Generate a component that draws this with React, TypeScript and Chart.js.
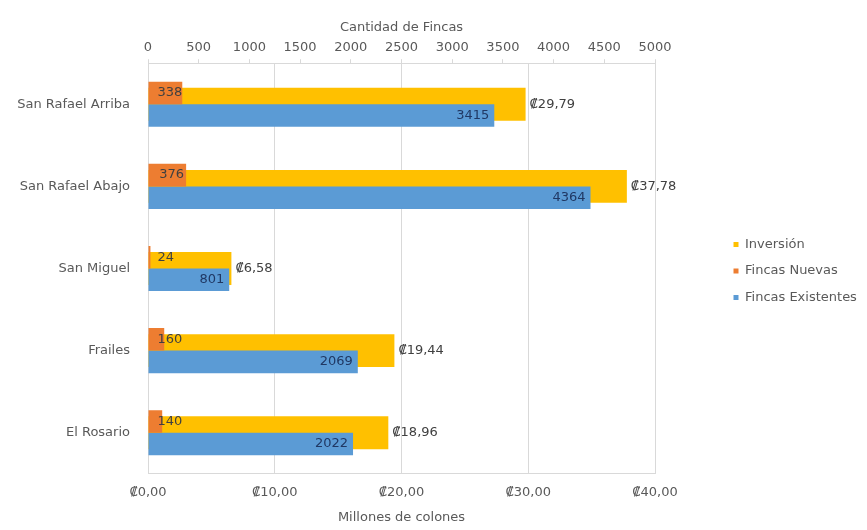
import React, { useEffect, useRef } from 'react';
import { Chart, registerables } from 'chart.js';

Chart.register(...registerables);

const categories = ['San Rafael Arriba', 'San Rafael Abajo', 'San Miguel', 'Frailes', 'El Rosario'];
const inversion = [29.79, 37.78, 6.58, 19.44, 18.96];
const fincasNuevas = [338, 376, 24, 160, 140];
const fincasExistentes = [3415, 4364, 801, 2069, 2022];
const seriesNames = ['Inversión', 'Fincas Nuevas', 'Fincas Existentes'];
const topAxisTitle = 'Cantidad de Fincas';
const bottomAxisTitle = 'Millones de colones';

const FONT = '"DejaVu Sans", sans-serif';
const TEXT = '#595959';
const GRID = '#d9d9d9';
const PAD_RIGHT = 3;
const PLOT_RIGHT = 655;

const fmtColones = (v: number) => '₡' + v.toFixed(2).replace('.', ',');

const valueLabels = {
  id: 'valueLabels',
  afterDatasetsDraw(chart: any) {
    const ctx = chart.ctx;
    ctx.save();
    ctx.font = `13px ${FONT}`;
    ctx.textBaseline = 'middle';
    chart.data.datasets.forEach((ds: any, di: number) => {
      const meta = chart.getDatasetMeta(di);
      meta.data.forEach((bar: any, i: number) => {
        const v = ds.data[i];
        const x = bar.x;
        const y = bar.y;
        const base = bar.base;
        if (di === 0) {
          ctx.fillStyle = '#404040';
          ctx.textAlign = 'left';
          ctx.fillText(fmtColones(v), x + 4, y);
        } else if (di === 1) {
          const t = String(v);
          const w = ctx.measureText(t).width;
          ctx.fillStyle = '#404040';
          ctx.textAlign = 'left';
          ctx.fillText(t, Math.max(x - 2 - w, base + 9), y);
        } else {
          const t = String(v);
          ctx.fillStyle = '#203864';
          ctx.textAlign = 'right';
          ctx.fillText(t, x - 5, y);
        }
      });
    });
    ctx.restore();
  },
};

export default function App() {
  const ref = useRef<HTMLCanvasElement | null>(null);

  useEffect(() => {
    if (!ref.current) return;
    Chart.defaults.font.family = FONT;
    Chart.defaults.font.size = 13;
    Chart.defaults.color = TEXT;

    const chart = new Chart(ref.current, {
      type: 'bar',
      data: {
        labels: categories,
        datasets: [
          {
            label: seriesNames[0],
            data: inversion,
            backgroundColor: '#FFC000',
            xAxisID: 'x',
            yAxisID: 'y',
            grouped: false,
            order: 1,
            categoryPercentage: 1,
            barPercentage: 0.4,
            borderWidth: 0,
          } as any,
          {
            label: seriesNames[1],
            data: fincasNuevas,
            backgroundColor: '#ED7D31',
            xAxisID: 'x2',
            yAxisID: 'y',
            order: 0,
            categoryPercentage: 0.55,
            barPercentage: 1,
            borderWidth: 0,
          } as any,
          {
            label: seriesNames[2],
            data: fincasExistentes,
            backgroundColor: '#5B9BD5',
            xAxisID: 'x2',
            yAxisID: 'y',
            order: 0,
            categoryPercentage: 0.55,
            barPercentage: 1,
            borderWidth: 0,
          } as any,
        ],
      },
      options: {
        indexAxis: 'y',
        animation: false,
        responsive: false,
        maintainAspectRatio: false,
        layout: { padding: { top: 17, bottom: 5, right: PAD_RIGHT, left: 0 } },
        plugins: {
          legend: {
            position: 'right',
            labels: {
              boxWidth: 5,
              boxHeight: 5,
              padding: 13.5,
              color: TEXT,
              font: { size: 13, family: FONT },
              sort: (a: any, b: any) => a.datasetIndex - b.datasetIndex,
            },
          },
          tooltip: { enabled: false },
        },
        scales: {
          x: {
            type: 'linear',
            position: 'bottom',
            min: 0,
            max: 40,
            ticks: {
              stepSize: 10,
              padding: 11,
              color: TEXT,
              maxRotation: 0,
              callback: (v: any) => fmtColones(Number(v)),
            },
            grid: { color: GRID, drawTicks: false },
            border: { color: GRID },
            title: {
              display: true,
              text: bottomAxisTitle,
              color: TEXT,
              font: { size: 13, family: FONT },
              padding: { top: -2, bottom: 0 },
            },
          },
          x2: {
            type: 'linear',
            position: 'top',
            min: 0,
            max: 5000,
            ticks: {
              stepSize: 500,
              padding: 4,
              color: TEXT,
              maxRotation: 0,
              autoSkip: false,
              callback: (v: any) => String(v),
            },
            grid: { drawOnChartArea: false, tickLength: 4, color: GRID },
            border: { color: GRID },
            title: {
              display: true,
              text: topAxisTitle,
              color: TEXT,
              font: { size: 13, family: FONT },
              padding: { top: 3, bottom: 0 },
            },
          },
          y: {
            type: 'category',
            grid: { display: false },
            border: { display: true, color: GRID },
            ticks: { padding: 10, color: TEXT },
            afterFit: (s: any) => {
              s.width = 148;
            },
          },
          yR: {
            type: 'linear',
            position: 'right',
            display: true,
            grid: { display: false },
            ticks: { display: false },
            border: { display: false },
            afterFit: (s: any) => {
              const lw = s.chart.legend ? s.chart.legend.width : 0;
              s.width = Math.max(0, s.chart.width - PAD_RIGHT - lw - PLOT_RIGHT);
            },
          },
        } as any,
      },
      plugins: [valueLabels],
    });
    return () => chart.destroy();
  }, []);

  return (
    <div style={{ position: 'absolute', left: 0, top: 0, width: 867, height: 530, background: '#fff' }}>
      <canvas ref={ref} width={867} height={530} />
    </div>
  );
}
